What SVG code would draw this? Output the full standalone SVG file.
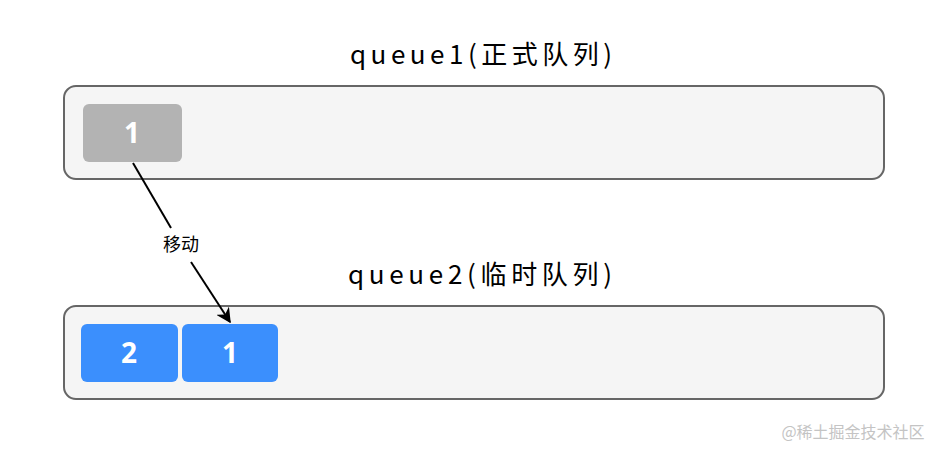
<svg xmlns="http://www.w3.org/2000/svg" width="948" height="458" viewBox="0 0 948 458">
<style>
.title{font-family:"Noto Sans CJK SC","Liberation Sans",sans-serif;font-size:26px;fill:#000;text-anchor:middle}
.cont{fill:#f5f5f5;stroke:#666;stroke-width:2}
.num{font-family:"Noto Sans","Liberation Sans",sans-serif;font-size:28px;font-weight:bold;fill:#fff;text-anchor:middle}
.grey{fill:#b3b3b3}
.blue{fill:#3b8ffd}
.lbl{font-family:"Noto Sans CJK SC",sans-serif;font-size:18px;fill:#000;text-anchor:middle}
.conn{stroke:#000;stroke-width:2;fill:none}
</style>
<defs>
<marker id="arr" viewBox="0 0 10 10" refX="9" refY="5" markerWidth="15" markerHeight="15" orient="auto" markerUnits="userSpaceOnUse">
<path d="M0,0 L10,5 L0,10 L3,5 Z" fill="#000"/>
</marker>
</defs>
<rect width="948" height="458" fill="#fff"/>
<g id="queue1">
<text class="title" x="481" y="64" textLength="262" lengthAdjust="spacing">queue1(正式队列)</text>
<rect class="cont" x="64" y="86" width="820" height="93" rx="12"/>
</g>
<g id="q1-item1">
<rect class="grey" x="83" y="104" width="99" height="58" rx="6"/>
<text class="num" x="132" y="143">1</text>
</g>
<g id="queue2">
<text class="title" x="480" y="284" textLength="264" lengthAdjust="spacing">queue2(临时队列)</text>
<rect class="cont" x="64" y="306" width="820" height="93" rx="12"/>
</g>
<g id="q2-item2">
<rect class="blue" x="81" y="324" width="97" height="58" rx="6"/>
<text class="num" x="129" y="363">2</text>
</g>
<g id="q2-item1">
<rect class="blue" x="182" y="324" width="96" height="58" rx="6"/>
<text class="num" x="230" y="363">1</text>
</g>
<g id="connectors">
<path class="conn" d="M133,163 L171,228"/>
<path class="conn" d="M191,262 L230,322" marker-end="url(#arr)"/>
<text class="lbl" x="181" y="251">移动</text>
</g>
<text x="853" y="438" style="font-family:'Noto Sans CJK SC',sans-serif;font-size:16px;fill:#c4c4c4;text-anchor:middle">@稀土掘金技术社区</text>
</svg>
